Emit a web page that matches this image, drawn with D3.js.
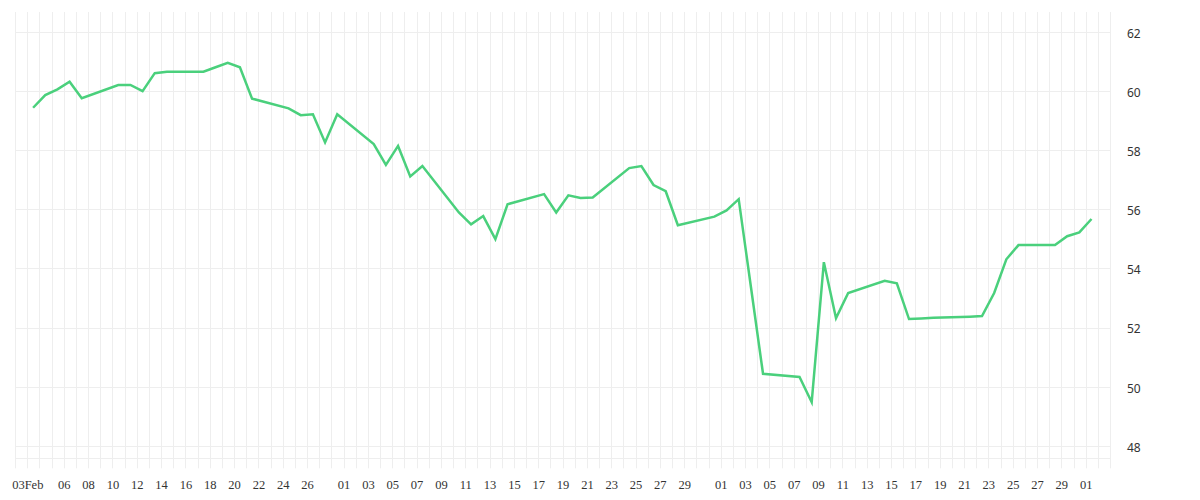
<!DOCTYPE html>
<html>
<head>
<meta charset="utf-8">
<script src="https://cdn.jsdelivr.net/npm/d3@7"></script>
<style>
  body { margin: 0; background: #ffffff; }
  svg { display: block; }
</style>
</head>
<body>
<svg id="chart" width="1200" height="500"></svg>
<script>
// ---- data ----
const dates = [
  "2025-02-03","2025-02-04","2025-02-05","2025-02-06","2025-02-07",
  "2025-02-10","2025-02-11","2025-02-12","2025-02-13","2025-02-14",
  "2025-02-17","2025-02-18","2025-02-19","2025-02-20","2025-02-21",
  "2025-02-24","2025-02-25","2025-02-26","2025-02-27","2025-02-28",
  "2025-03-03","2025-03-04","2025-03-05","2025-03-06","2025-03-07",
  "2025-03-10","2025-03-11","2025-03-12","2025-03-13","2025-03-14",
  "2025-03-17","2025-03-18","2025-03-19","2025-03-20","2025-03-21",
  "2025-03-24","2025-03-25","2025-03-26","2025-03-27","2025-03-28",
  "2025-03-31","2025-04-01","2025-04-02","2025-04-03","2025-04-04",
  "2025-04-07","2025-04-08","2025-04-09","2025-04-10","2025-04-11",
  "2025-04-14","2025-04-15","2025-04-16","2025-04-17","2025-04-18",
  "2025-04-21","2025-04-22","2025-04-23","2025-04-24","2025-04-25",
  "2025-04-28","2025-04-29","2025-04-30","2025-05-01"
];
const values = [
  59.43, 59.86, 60.05, 60.31, 59.75,
  60.20, 60.20, 59.99, 60.60, 60.65,
  60.65, 60.80, 60.95, 60.80, 59.74,
  59.41, 59.18, 59.21, 58.26, 59.21,
  58.20, 57.50, 58.14, 57.11, 57.46,
  55.89, 55.49, 55.77, 54.99, 56.17,
  56.51, 55.89, 56.47, 56.38, 56.40,
  57.39, 57.46, 56.82, 56.61, 55.46,
  55.75, 55.96, 56.34, 53.39, 50.44,
  50.33, 49.48, 54.21, 52.32, 53.17,
  53.58, 53.50, 52.29, 52.31, 52.33,
  52.37, 52.39, 53.17, 54.31, 54.79,
  54.79, 55.09, 55.22, 55.67
];
const tickDates = [
  "2025-02-03","2025-02-06","2025-02-08","2025-02-10","2025-02-12","2025-02-14",
  "2025-02-16","2025-02-18","2025-02-20","2025-02-22","2025-02-24","2025-02-26",
  "2025-03-01","2025-03-03","2025-03-05","2025-03-07","2025-03-09","2025-03-11",
  "2025-03-13","2025-03-15","2025-03-17","2025-03-19","2025-03-21","2025-03-23",
  "2025-03-25","2025-03-27","2025-03-29",
  "2025-04-01","2025-04-03","2025-04-05","2025-04-07","2025-04-09","2025-04-11",
  "2025-04-13","2025-04-15","2025-04-17","2025-04-19","2025-04-21","2025-04-23",
  "2025-04-25","2025-04-27","2025-04-29",
  "2025-05-01"
];
const tickLabels = [
  "03Feb","06","08","10","12","14","16","18","20","22","24","26",
  "01","03","05","07","09","11","13","15","17","19","21","23","25","27","29",
  "01","03","05","07","09","11","13","15","17","19","21","23","25","27","29",
  "01"
];
const yTicks = [48, 50, 52, 54, 56, 58, 60, 62];
const xStart = "2025-02-02";
const xEnd = "2025-05-03";
const yDomain = [47.584, 62.666];

// ---- layout ----
const parse = d3.timeParse("%Y-%m-%d");
const pointOffsetMs = 11.5 * 3600 * 1000; // samples sit mid-day between day grid lines
const plotLeft = 15.1, plotRight = 1110, plotTop = 12, plotBottom = 458.3;
const gridExtend = 10;

const svg = d3.select("#chart");
const x = d3.scaleTime().domain([parse(xStart), parse(xEnd)]).range([plotLeft, plotRight]);
const y = d3.scaleLinear().domain(yDomain).range([plotBottom, plotTop]);

const gridColor = "#eeeeee";
const crisp = v => Math.round(v) + 0.5;

// vertical day grid
const days = d3.timeDay.range(parse(xStart), d3.timeDay.offset(parse(xEnd), 1));
svg.append("g").selectAll("line").data(days).join("line")
  .attr("x1", d => crisp(x(d))).attr("x2", d => crisp(x(d)))
  .attr("y1", plotTop).attr("y2", plotBottom + gridExtend)
  .attr("stroke", gridColor).attr("stroke-width", 1);

// horizontal grid
svg.append("g").selectAll("line").data(yTicks.concat([yDomain[0]])).join("line")
  .attr("x1", plotLeft).attr("x2", plotRight)
  .attr("y1", d => crisp(y(d))).attr("y2", d => crisp(y(d)))
  .attr("stroke", gridColor).attr("stroke-width", 1);

// x axis
const xAxis = d3.axisBottom(x)
  .tickValues(tickDates.map(parse))
  .tickFormat((d, i) => tickLabels[i])
  .tickSize(0).tickPadding(12);
const gx = svg.append("g").attr("transform", `translate(0,${plotBottom + gridExtend})`).call(xAxis);
gx.select(".domain").remove();
gx.selectAll("text")
  .attr("font-family", "'Liberation Serif', 'DejaVu Serif', serif")
  .attr("font-size", 12.5).attr("fill", "#333333");

// y axis (right)
const yAxis = d3.axisRight(y).tickValues(yTicks).tickFormat(d3.format("d")).tickSize(0).tickPadding(0);
const gy = svg.append("g").attr("transform", `translate(1127,1.5)`).call(yAxis);
gy.select(".domain").remove();
gy.selectAll("text")
  .attr("font-family", "'Noto Sans', 'DejaVu Sans', sans-serif")
  .attr("font-size", 12).attr("fill", "#333333");

// line
const data = dates.map((d, i) => ({ date: new Date(parse(d).getTime() + pointOffsetMs), value: values[i] }));
const line = d3.line().x(d => x(d.date)).y(d => y(d.value));
svg.append("path").datum(data)
  .attr("d", line)
  .attr("fill", "none")
  .attr("stroke", "#4ad07c")
  .attr("stroke-width", 2.5)
  .attr("stroke-linejoin", "miter")
  .attr("stroke-linecap", "butt");
</script>
</body>
</html>
